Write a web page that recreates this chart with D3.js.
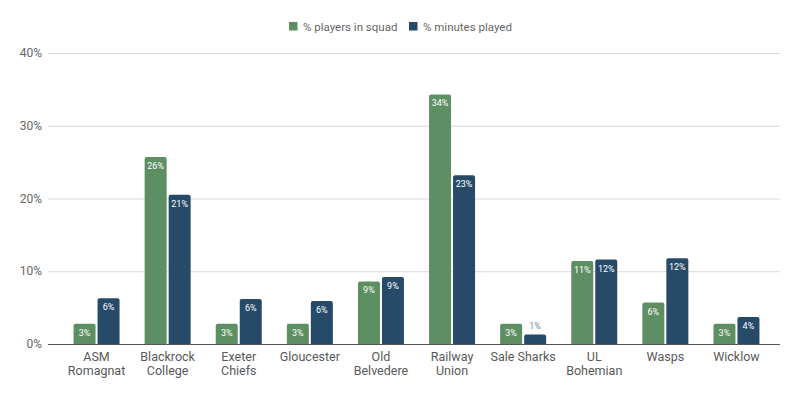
<!DOCTYPE html>
<html>
<head>
<meta charset="utf-8">
<script src="https://cdn.jsdelivr.net/npm/d3@7"></script>
<style>
  body { margin: 0; background: #fff; }
  svg { font-family: Roboto, "Liberation Sans", Arial, sans-serif; }
</style>
</head>
<body>
<svg width="800" height="397"></svg>
<script>
// Categories (club names, split on two lines)
const clubs = [
  ["ASM", "Romagnat"], ["Blackrock", "College"], ["Exeter", "Chiefs"], ["Gloucester"],
  ["Old", "Belvedere"], ["Railway", "Union"], ["Sale Sharks"], ["UL", "Bohemian"],
  ["Wasps"], ["Wicklow"]
];
const seriesNames = ["% players in squad", "% minutes played"];
const playersPct = [2.8, 25.7, 2.8, 2.8, 8.6, 34.3, 2.8, 11.4, 5.7, 2.8];
const minutesPct = [6.3, 20.5, 6.2, 5.9, 9.2, 23.2, 1.3, 11.6, 11.8, 3.7];
const yTicks = [0, 10, 20, 30, 40];
const colors = ["#5e8f62", "#274a69"];

const width = 800, height = 397;
const margin = { top: 53, right: 28, bottom: 53, left: 61 };

const svg = d3.select("svg");

const x = d3.scaleBand()
    .domain(d3.range(clubs.length))
    .range([margin.left, width - margin.right])
    .paddingInner(0).paddingOuter(0);

const y = d3.scaleLinear()
    .domain([0, 40])
    .range([height - margin.bottom, margin.top]);

// gridlines
svg.append("g")
    .selectAll("line")
    .data(yTicks)
    .join("line")
    .attr("x1", 48).attr("x2", 780)
    .attr("y1", d => y(d) + 0.5).attr("y2", d => y(d) + 0.5)
    .attr("stroke", "#d9d9d9").attr("stroke-width", 1);

// y tick labels
svg.append("g")
    .selectAll("text")
    .data(yTicks)
    .join("text")
    .attr("x", 42).attr("y", d => y(d) + 4)
    .attr("text-anchor", "end")
    .attr("font-size", 12).attr("fill", "#666")
    .text(d => d + "%");

const barW = 22, gap = 2;
const series = [playersPct, minutesPct];

function barPath(x0, y0, w, h, r) {
  r = Math.min(r, h);
  return `M${x0},${y0 + h}V${y0 + r}Q${x0},${y0} ${x0 + r},${y0}H${x0 + w - r}Q${x0 + w},${y0} ${x0 + w},${y0 + r}V${y0 + h}Z`;
}

series.forEach((vals, s) => {
  const g = svg.append("g");
  g.selectAll("path")
    .data(vals)
    .join("path")
    .attr("fill", colors[s])
    .attr("d", (d, i) => {
      const cx = x(i) + x.bandwidth() / 2;
      const x0 = s === 0 ? cx - gap / 2 - barW : cx + gap / 2;
      return barPath(x0, y(d), barW, y(0) - y(d), 2);
    });

  g.selectAll("text")
    .data(vals)
    .join("text")
    .attr("x", (d, i) => {
      const cx = x(i) + x.bandwidth() / 2;
      return (s === 0 ? cx - gap / 2 - barW / 2 : cx + gap / 2 + barW / 2);
    })
    .attr("y", d => (y(0) - y(d) < 16 ? y(d) - 6 : y(d) + 12))
    .attr("text-anchor", "middle")
    .attr("font-size", 9)
    .attr("fill", d => (y(0) - y(d) < 16 ? "#7a8aa0" : "#fff"))
    .text(d => Math.round(d) + "%");
});

// baseline
svg.append("line")
    .attr("x1", 48).attr("x2", 780)
    .attr("y1", y(0) + 0.5).attr("y2", y(0) + 0.5)
    .attr("stroke", "#555").attr("stroke-width", 1);

// x labels
const xl = svg.append("g")
    .selectAll("text")
    .data(clubs)
    .join("text")
    .attr("x", (d, i) => x(i) + x.bandwidth() / 2)
    .attr("y", y(0) + 17)
    .attr("text-anchor", "middle")
    .attr("font-size", 12.5).attr("fill", "#595959");
xl.selectAll("tspan")
    .data(d => d)
    .join("tspan")
    .attr("x", function () { return this.parentNode.getAttribute("x"); })
    .attr("dy", (d, j) => j === 0 ? 0 : 14)
    .text(d => d);

// legend
const legend = svg.append("g").attr("transform", "translate(289,22)");
const legX = [0, 120];
seriesNames.forEach((name, s) => {
  legend.append("rect")
    .attr("x", legX[s]).attr("y", 0)
    .attr("width", 8.5).attr("height", 8.5)
    .attr("fill", colors[s]);
  legend.append("text")
    .attr("x", legX[s] + 14).attr("y", 9)
    .attr("font-size", 11.5).attr("fill", "#666")
    .text(name);
});
</script>
</body>
</html>
